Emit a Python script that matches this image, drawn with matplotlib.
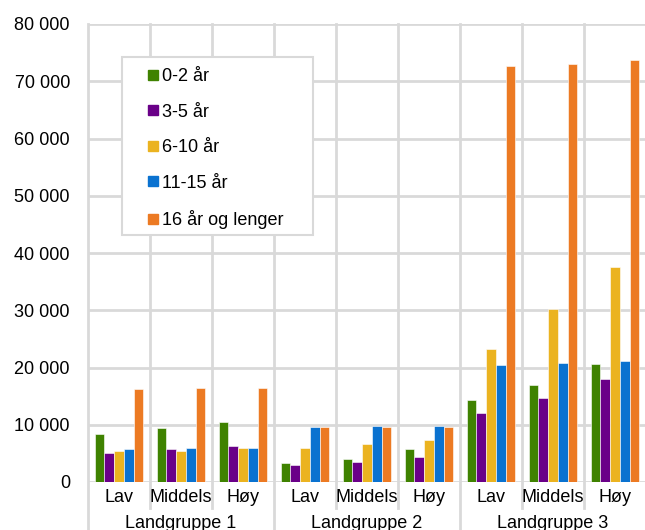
import matplotlib

matplotlib.use("Agg")
import matplotlib.pyplot as plt
import matplotlib.transforms as mtransforms
from matplotlib.lines import Line2D
from matplotlib.patches import Rectangle
from matplotlib.ticker import FuncFormatter
import numpy as np

# data
groups = ["Landgruppe 1", "Landgruppe 2", "Landgruppe 3"]
levels = ["Lav", "Middels", "Høy"]
series = ["0-2 år", "3-5 år", "6-10 år", "11-15 år", "16 år og lenger"]
colors = ["#3f8200", "#6a0088", "#ebb320", "#0a72d0", "#ec7a23"]

# one list per series, order: LG1 Lav/Middels/Høy, LG2 ..., LG3 ...
s_0_2 = [8300, 9500, 10500, 3400, 4100, 5700, 14400, 17000, 20600]
s_3_5 = [5100, 5700, 6300, 2900, 3500, 4400, 12000, 14700, 18000]
s_6_10 = [5500, 5500, 6000, 6000, 6700, 7300, 23300, 30300, 37600]
s_11_15 = [5800, 5900, 5900, 9600, 9700, 9700, 20400, 20700, 21100]
s_16 = [16300, 16400, 16400, 9600, 9600, 9600, 72600, 73100, 73700]
values = [s_0_2, s_3_5, s_6_10, s_11_15, s_16]

plt.rcParams.update({"font.family": ["Liberation Sans", "DejaVu Sans"], "font.size": 13})

fig = plt.figure(figsize=(6.45, 5.3), dpi=100)
ax = fig.add_axes([88 / 645, 48 / 530, 558 / 645, 458 / 530])

grid_c = "#d9d9d9"
n_cat = len(groups) * len(levels)
bw = 0.156
x = np.arange(n_cat) + 0.5
for k, (name, vals, c) in enumerate(zip(series, values, colors)):
    off = (k - 2) * bw
    ax.bar(x + off, vals, width=bw, color=c, edgecolor="white", linewidth=0.4, zorder=3)

ax.set_xlim(0, n_cat)
ax.set_ylim(0, 80000)
ax.set_yticks(np.arange(0, 80001, 10000))
ax.yaxis.set_major_formatter(FuncFormatter(lambda v, _: f"{v:,.0f}".replace(",", " ")))
ax.tick_params(axis="y", length=0, pad=13)
ax.set_xticks([])
ax.grid(axis="y", color=grid_c, lw=2, zorder=0)
for s in ax.spines.values():
    s.set_visible(False)

# vertical separators, extending into the label area
trans = mtransforms.blended_transform_factory(ax.transData, ax.transAxes)
for i in range(n_cat + 1):
    y_low = -0.11 if i % 3 == 0 else -0.057
    ax.plot([i, i], [y_low, 1], transform=trans, color=grid_c, lw=2, clip_on=False, zorder=1)

for i, xc in enumerate(x):
    ax.text(xc, -0.033, levels[i % 3], transform=trans, ha="center", va="center")
for g, name in enumerate(groups):
    ax.text(g * 3 + 1.5, -0.09, name, transform=trans, ha="center", va="center")

# legend box
ax.add_patch(Rectangle((122 / 645, (530 - 235) / 530), 191 / 645, 178 / 530,
                       transform=fig.transFigure, facecolor="white", edgecolor=grid_c,
                       lw=1.5, zorder=6, clip_on=False))
handles = [Line2D([], [], ls="none", marker="s", markersize=7.5, color=c) for c in colors]
leg = ax.legend(handles, series, loc="upper left", frameon=False, borderpad=0,
                bbox_to_anchor=(139 / 645, (530 - 59) / 530),
                bbox_transform=fig.transFigure, handlelength=0.6, handletextpad=0.15,
                labelspacing=1.03, fontsize=13)
leg.set_zorder(7)

fig.savefig("out.png", dpi=100)
